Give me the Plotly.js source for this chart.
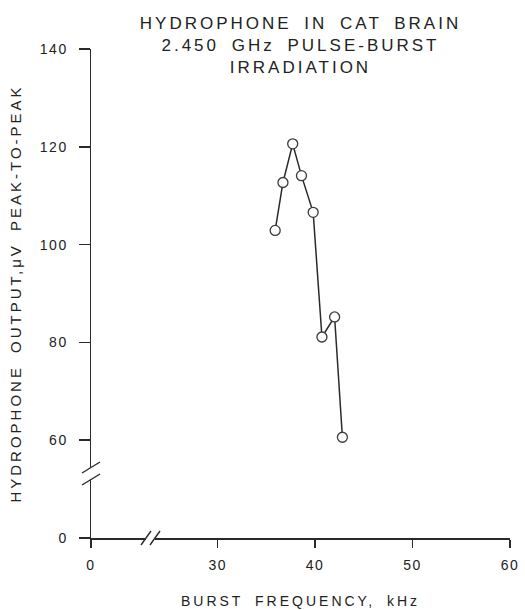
<!DOCTYPE html>
<html>
<head>
<meta charset="utf-8">
<script src="https://cdn.plot.ly/plotly-3.0.1.min.js"></script>
<style>
  html, body { margin: 0; padding: 0; background: #fff; }
  #chart { width: 525px; height: 610px; }
  .gtitle { letter-spacing: 3px; word-spacing: 5px; }
  .g-xtitle text { letter-spacing: 3px; word-spacing: 5px; }
  .g-ytitle text { letter-spacing: 3px; word-spacing: 5px; }
  .xtick text, .ytick text { letter-spacing: 1.5px; }
</style>
</head>
<body>
<div id="chart"></div>
<script>
// Data
var burstFrequency = [35.9, 36.7, 37.7, 38.6, 39.8, 40.7, 42.0, 42.8];   // kHz
var hydrophoneOutput = [102.9, 112.7, 120.6, 114.1, 106.6, 81.1, 85.2, 60.6]; // µV peak-to-peak

// Tick labels (broken axes: the "0" label stands in at the break position)
var xTickVals = [17, 30, 40, 50, 60];
var xTickText = ['0', '30', '40', '50', '60'];
var yTickVals = [40, 60, 80, 100, 120, 140];
var yTickText = ['0', '60', '80', '100', '120', '140'];

// Plot box in pixels
var W = 525, H = 610;
var L = 91, R = 510, T = 49, B = 538;
function px(x, y) { return [(x - L) / (R - L), (B - y) / (B - T)]; }
function seg(x0, y0, x1, y1, color, width) {
  var a = px(x0, y0), b = px(x1, y1);
  return { type: 'line', xref: 'paper', yref: 'paper', x0: a[0], y0: a[1], x1: b[0], y1: b[1],
           line: { color: color, width: width }, layer: 'above' };
}
var ink = '#2a2a2a';
var shapes = [
  // gaps in the axis lines
  seg(146, 538, 155, 538, '#ffffff', 4),
  seg(91, 467.5, 91, 479.5, '#ffffff', 4),
  // break marks on x axis
  seg(141, 545, 151, 531, ink, 1.4),
  seg(150, 545, 160, 531, ink, 1.4),
  // break marks on y axis
  seg(82, 473, 100, 462, ink, 1.4),
  seg(82, 485, 100, 474, ink, 1.4)
];

var font = 'Liberation Sans, Arial, Helvetica, sans-serif';

var trace = {
  x: burstFrequency,
  y: hydrophoneOutput,
  type: 'scatter',
  mode: 'lines+markers',
  line: { color: ink, width: 1.5 },
  marker: { symbol: 'circle', size: 10, color: '#ffffff', line: { color: '#3a3a3a', width: 1.3 } },
  cliponaxis: false,
  showlegend: false,
  hoverinfo: 'x+y'
};

var layout = {
  width: W, height: H,
  margin: { l: L, r: W - R, t: T, b: H - B, pad: 0 },
  paper_bgcolor: '#ffffff',
  plot_bgcolor: '#ffffff',
  font: { family: font, color: '#222222', size: 14 },
  title: {
    text: 'HYDROPHONE IN CAT BRAIN<br>2.450 GHz PULSE-BURST<br>IRRADIATION',
    font: { family: font, size: 17, color: '#222222' },
    xref: 'paper', x: 0.5, xanchor: 'center',
    yref: 'container', y: 1 - 29 / H, yanchor: 'top'
  },
  xaxis: {
    range: [17, 60],
    tickmode: 'array', tickvals: xTickVals, ticktext: xTickText,
    ticks: 'outside', ticklen: 8, tickwidth: 1.5, tickcolor: ink,
    ticklabelstandoff: 6,
    showline: true, linecolor: ink, linewidth: 1.5,
    showgrid: false, zeroline: false,
    tickfont: { family: font, size: 14, color: '#222222' },
    title: { text: 'BURST FREQUENCY, kHz', font: { family: font, size: 14, color: '#222222' }, standoff: 24 },
    fixedrange: true
  },
  yaxis: {
    range: [40, 140],
    tickmode: 'array', tickvals: yTickVals, ticktext: yTickText,
    ticks: 'outside', ticklen: 11, tickwidth: 1.5, tickcolor: ink,
    ticklabelstandoff: 8,
    showline: true, linecolor: ink, linewidth: 1.5,
    showgrid: false, zeroline: false,
    tickfont: { family: font, size: 14, color: '#222222' },
    title: { text: 'HYDROPHONE OUTPUT,μV PEAK-TO-PEAK', font: { family: font, size: 15, color: '#222222' }, standoff: 14 },
    fixedrange: true
  },
  shapes: shapes
};

Plotly.newPlot('chart', [trace], layout, { displayModeBar: false, staticPlot: true });
</script>
</body>
</html>
